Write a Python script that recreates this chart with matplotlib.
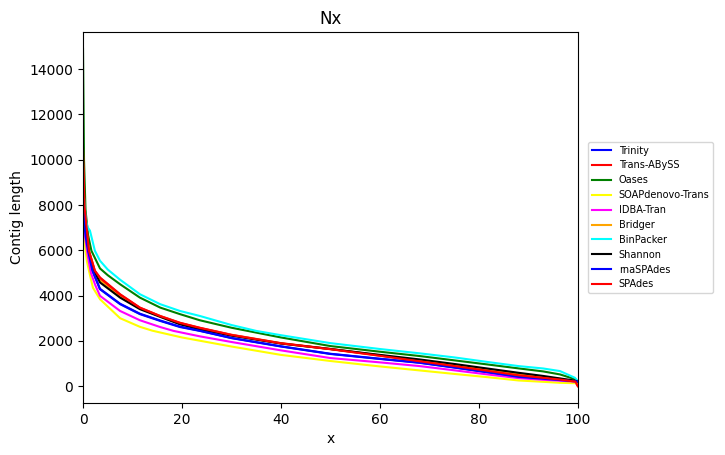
import matplotlib
matplotlib.use("Agg")
import matplotlib.pyplot as plt

names = ["Trinity", "Trans-ABySS", "Oases", "SOAPdenovo-Trans", "IDBA-Tran",
         "Bridger", "BinPacker", "Shannon", "rnaSPAdes", "SPAdes"]
colors = ["blue", "red", "green", "yellow", "magenta",
          "orange", "cyan", "black", "blue", "red"]

trinity_x = [0, 0.3, 0.6, 1.0, 1.9, 3.43, 7.5, 11.5, 15.6, 19.6, 23.6, 30, 40, 50, 60, 68, 75, 82, 88, 93, 96.4, 99.5, 100]
trinity_y = [9000, 7000, 6500, 5980, 5100, 4280, 3620, 3180, 2880, 2610, 2440, 2120, 1750, 1420, 1200, 1030, 820, 600, 400, 320, 265, 210, 200]

transabyss_x = [0, 0.3, 0.8, 1.2, 2.4, 3.43, 7.5, 11.5, 15.6, 19.6, 23.6, 30, 40, 50, 60, 68, 75, 82, 88, 93, 96.4, 99.5, 100]
transabyss_y = [10600, 8000, 6870, 5980, 5100, 4800, 4060, 3470, 3100, 2800, 2580, 2270, 1900, 1640, 1350, 1110, 900, 680, 487, 370, 295, 200, 0]

oases_x = [0, 0.2, 0.5, 1, 1.7, 3.43, 5, 7.5, 11.5, 15.6, 19.6, 23.6, 30, 40, 50, 60, 68, 75, 82, 88, 93, 96.4, 99.4, 100]
oases_y = [14900, 10000, 7800, 6700, 5980, 5200, 4900, 4500, 3910, 3470, 3180, 2910, 2580, 2150, 1770, 1520, 1330, 1140, 950, 784, 650, 517, 310, 200]

soap_x = [0, 0.2, 0.5, 0.8, 1.2, 2.0, 3.43, 7.5, 11.5, 14, 20, 25, 30, 40, 50, 60, 68, 75, 82, 88, 93, 96.4, 99.5, 100]
soap_y = [8000, 6700, 6000, 5500, 5100, 4350, 3840, 3000, 2620, 2450, 2150, 1950, 1750, 1380, 1110, 870, 694, 540, 390, 250, 190, 146, 130, 120]

idba_x = [0, 0.3, 0.6, 1.0, 1.6, 2.5, 3.43, 7.5, 11.5, 15.6, 18.3, 23.6, 30, 40, 50, 60, 68, 75, 82, 88, 93, 96.4, 99.5, 100]
idba_y = [8500, 6800, 6300, 5700, 5000, 4450, 3990, 3320, 2910, 2610, 2440, 2200, 1950, 1580, 1240, 1050, 886, 700, 510, 354, 280, 240, 200, 180]

bridger_x = [0, 0.3, 0.8, 1.2, 2.3, 3.43, 7.5, 11.5, 15.6, 19.6, 23.6, 30, 40, 50, 60, 68, 75, 82, 88, 93, 96.4, 99.5, 100]
bridger_y = [9800, 7500, 6700, 5950, 5080, 4680, 3980, 3430, 3080, 2760, 2540, 2250, 1890, 1640, 1360, 1140, 950, 720, 540, 410, 320, 220, 150]

binpacker_x = [0, 0.3, 0.6, 1.0, 1.4, 2.4, 3.43, 5, 7.5, 11.5, 15.6, 19.6, 23.6, 30, 35, 40, 50, 60, 68, 75, 82, 88, 93, 96.4, 99.4, 100]
binpacker_y = [9000, 8000, 7300, 7000, 6870, 5980, 5540, 5150, 4700, 4060, 3620, 3320, 3100, 2700, 2440, 2250, 1900, 1640, 1450, 1270, 1060, 886, 780, 665, 370, 220]

shannon_x = [0, 0.3, 0.7, 1.1, 2.2, 3.43, 7.5, 11.5, 15.6, 19.6, 23.6, 30, 40, 50, 60, 68, 75, 82, 88, 93, 96.4, 99.5, 100]
shannon_y = [9400, 7200, 6700, 5980, 5100, 4580, 3910, 3400, 3060, 2730, 2510, 2230, 1880, 1640, 1380, 1180, 980, 770, 590, 450, 340, 240, 200]

rnaspades_x = [0, 0.3, 0.6, 1.0, 1.9, 3.43, 7.5, 11.5, 15.6, 19.6, 23.6, 30, 40, 50, 60, 68, 75, 82, 88, 93, 96.4, 99.5, 100]
rnaspades_y = [9100, 7050, 6520, 6000, 5110, 4300, 3640, 3200, 2900, 2630, 2450, 2130, 1760, 1430, 1210, 1040, 830, 610, 410, 325, 268, 212, 200]

spades_x = [0, 0.3, 0.8, 1.2, 2.4, 3.43, 7.5, 11.5, 15.6, 19.6, 23.6, 30, 40, 50, 60, 68, 75, 82, 88, 93, 96.4, 99.5, 100]
spades_y = [10500, 7950, 6850, 5970, 5090, 4780, 4040, 3460, 3090, 2790, 2570, 2260, 1890, 1630, 1340, 1100, 890, 670, 480, 365, 290, 200, 0]

xs = [trinity_x, transabyss_x, oases_x, soap_x, idba_x, bridger_x,
      binpacker_x, shannon_x, rnaspades_x, spades_x]
ys = [trinity_y, transabyss_y, oases_y, soap_y, idba_y, bridger_y,
      binpacker_y, shannon_y, rnaspades_y, spades_y]

fig = plt.figure(figsize=(7.25, 4.55), dpi=100)
ax = fig.add_axes([0.1145, 0.1143, 0.6825, 0.8154])
for n, c, x, y in zip(names, colors, xs, ys):
    ax.plot(x, y, color=c, linewidth=1.5, label=n)
ax.set_xlim(0, 100)
ax.set_title("Nx")
ax.set_xlabel("x")
ax.set_ylabel("Contig length")
ax.legend(loc="center left", bbox_to_anchor=(1.01, 0.5), fontsize=7)
fig.savefig("out.png", dpi=100)
